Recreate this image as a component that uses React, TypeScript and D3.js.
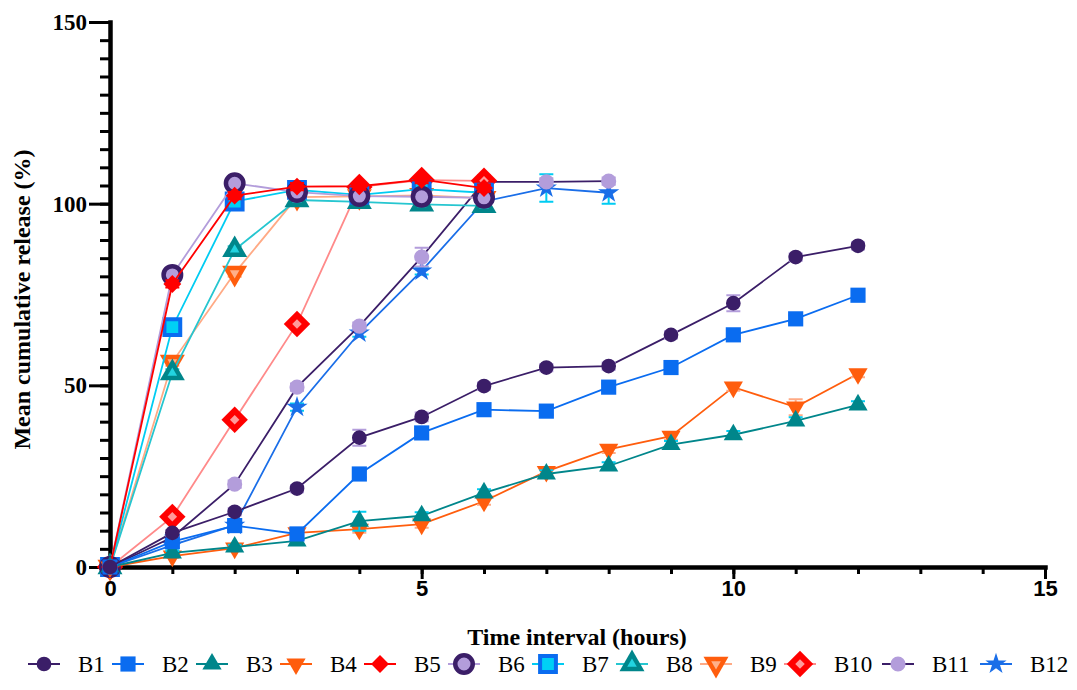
import React, { useEffect, useRef } from "react";
import * as d3 from "d3";

// sampling times (hours)
const hours = [0, 1, 2, 3, 4, 5, 6, 7, 8, 9, 10, 11, 12];

// mean cumulative release (%) per batch
const B1 = [0, 9.4, 15.2, 21.6, 35.6, 41.3, 49.8, 54.9, 55.3, 63.9, 72.6, 85.3, 88.4];
const B2 = [0, 7.0, 11.4, 9.1, 25.6, 36.9, 43.3, 42.9, 49.5, 54.9, 63.9, 68.3, 74.8];
const B3 = [0, 3.9, 5.5, 7.2, 12.6, 14.1, 20.4, 25.6, 27.8, 33.7, 36.4, 40.2, 44.6];
const B4 = [0, 3.0, 5.2, 9.4, 10.4, 11.8, 18.1, 26.3, 32.4, 36.0, 49.5, 44.0, 53.2];
const B5 = [0, 77.9, 102.2, 104.7, 104.8, 106.6, 104.3];
const B6 = [0, 80.4, 105.6, 103.2, 102.1, 101.9, 101.6];
const B7 = [0, 66.0, 100.6, 103.8, 102.4, 104.0, 103.0];
const B8 = [0, 53.4, 87.3, 101.0, 100.5, 99.8, 99.4];
const B9 = [0, 56.4, 80.9, 101.8, 102.0, 102.3, 101.5];
const B10 = [0, 13.8, 40.5, 66.9, 104.6, 106.5, 106.3];
const B11 = [0, 8.2, 22.8, 49.5, 66.3, 85.3, 106.0, 106.0, 106.2];
const B12 = [0, 6.0, 11.5, 44.0, 64.4, 81.5, 100.6, 104.3, 103.0];

// standard deviations
const B1err = [0, 0.8, 1, 1, 2.2, 1.2, 1, 1, 1, 1, 2.2, 1, 1];
const B2err = [0, 0.6, 1, 0.8, 1, 1, 1, 1, 1, 1, 1, 1, 1];
const B3err = [0, 0.5, 0.6, 0.8, 2.6, 1, 1, 1, 1, 1, 1, 1, 1];
const B4err = [0, 0.5, 0.6, 0.8, 1, 1, 1, 1, 1, 1, 1, 2.2, 1];
const B5err = [0, 1, 1, 1, 1, 1, 1];
const B6err = [0, 1, 1, 1, 1, 1, 1];
const B7err = [0, 1, 1, 1, 1, 1, 1];
const B8err = [0, 1, 1, 1, 1, 1, 1];
const B9err = [0, 1, 1, 1, 1, 1, 1];
const B10err = [0, 1, 1, 1, 1, 1, 1.5];
const B11err = [0, 1, 1, 1, 1, 2.6, 1.8, 1, 1];
const B12err = [0, 1, 1, 1, 1, 1, 1, 3.8, 3.0];

const seriesNames = ["B1", "B2", "B3", "B4", "B5", "B6", "B7", "B8", "B9", "B10", "B11", "B12"];
const seriesValues = [B1, B2, B3, B4, B5, B6, B7, B8, B9, B10, B11, B12];
const seriesErrors = [B1err, B2err, B3err, B4err, B5err, B6err, B7err, B8err, B9err, B10err, B11err, B12err];

const xMajorTicks = [0, 5, 10, 15];
const yMajorTicks = [0, 50, 100, 150];

const purple = "#3b1e68";
const blue = "#0a6cf0";
const teal = "#00868b";
const orange = "#ff5d0d";
const red = "#ff0000";
const lavender = "#b39ddb";
const cyan = "#00ccf2";
const turq = "#26c6d0";
const salmon = "#ffaa85";
const pink = "#ff8a8a";

type Style = { line: string; err: string; marker: string };
const styles: Style[] = [
    { line: purple, err: lavender, marker: "circle" },
    { line: blue, err: blue, marker: "square" },
    { line: teal, err: cyan, marker: "triangle" },
    { line: orange, err: salmon, marker: "triDown" },
    { line: red, err: red, marker: "diamond" },
    { line: lavender, err: lavender, marker: "ring" },
    { line: cyan, err: cyan, marker: "boxSquare" },
    { line: turq, err: turq, marker: "bigTriangle" },
    { line: salmon, err: salmon, marker: "bigTriDown" },
    { line: pink, err: pink, marker: "bigDiamond" },
    { line: purple, err: lavender, marker: "lavCircle" },
    { line: "#1a6ee8", err: cyan, marker: "star" },
];

function drawMarker(g: any, kind: string, cx: number, cy: number) {
    const sym = (type: any, size: number) => d3.symbol().type(type).size(size)() as string;
    const add = (d: string, fill: string, rot = 0, stroke = "none", sw = 0) =>
        g.append("path")
            .attr("d", d)
            .attr("transform", `translate(${cx},${cy}) rotate(${rot})`)
            .attr("fill", fill)
            .attr("stroke", stroke)
            .attr("stroke-width", sw);
    switch (kind) {
        case "circle": add(sym(d3.symbolCircle, 170), purple); break;
        case "square": add(sym(d3.symbolSquare, 230), blue); break;
        case "triangle": add(sym(d3.symbolTriangle, 160), teal); break;
        case "triDown": add(sym(d3.symbolTriangle, 160), orange, 180); break;
        case "diamond": add(sym(d3.symbolSquare, 160), red, 45); break;
        case "ring": add(sym(d3.symbolCircle, 240), lavender, 0, purple, 4.5); break;
        case "boxSquare": add(sym(d3.symbolSquare, 250), "#00d0f5", 0, blue, 4); break;
        case "bigTriangle":
            add(sym(d3.symbolTriangle, 270), teal);
            add(sym(d3.symbolTriangle, 40), "#22d3e0");
            break;
        case "bigTriDown":
            add(sym(d3.symbolTriangle, 270), orange, 180);
            add(sym(d3.symbolTriangle, 40), "#ffb08a", 180);
            break;
        case "bigDiamond":
            add(sym(d3.symbolSquare, 350), red, 45);
            add(sym(d3.symbolSquare, 45), "#ff9a9a", 45);
            break;
        case "lavCircle": add(sym(d3.symbolCircle, 180), lavender); break;
        case "star": add(sym(d3.symbolStar, 140), "#1a6ee8"); break;
    }
}

export default function App() {
    const ref = useRef<SVGSVGElement | null>(null);

    useEffect(() => {
        const width = 1077;
        const height = 690;
        const svg = d3.select(ref.current);
        svg.selectAll("*").remove();
        svg.attr("width", width).attr("height", height);

        const x = d3.scaleLinear().domain([0, 15]).range([110, 1045]);
        const y = d3.scaleLinear().domain([0, 150]).range([567, 22]);

        // minor ticks first
        const xMinor = svg.append("g").attr("transform", `translate(0,${y(0)})`)
            .call(d3.axisBottom(x).tickValues(d3.range(0, 16)).tickSize(7).tickSizeOuter(0).tickFormat(() => ""));
        const yMinor = svg.append("g").attr("transform", `translate(${x(0)},0)`)
            .call(d3.axisLeft(y).tickValues(d3.range(0, 151, 5)).tickSize(10).tickSizeOuter(0).tickFormat(() => ""));
        [xMinor, yMinor].forEach(a => {
            a.select(".domain").remove();
            a.selectAll(".tick line").attr("stroke", "#000").attr("stroke-width", 3);
        });

        const xAxis = svg.append("g").attr("transform", `translate(0,${y(0)})`)
            .call(d3.axisBottom(x).tickValues(xMajorTicks).tickSize(12).tickSizeOuter(0).tickPadding(1));
        xAxis.selectAll("text")
            .attr("font-family", "'Liberation Sans Narrow', 'Arial Narrow', 'Liberation Sans', sans-serif")
            .attr("font-weight", "bold").attr("font-size", 22).attr("fill", "#000");

        const yAxis = svg.append("g").attr("transform", `translate(${x(0)},0)`)
            .call(d3.axisLeft(y).tickValues(yMajorTicks).tickSize(21).tickSizeOuter(0).tickPadding(2));
        yAxis.selectAll("text")
            .attr("font-family", "'Liberation Serif', 'Times New Roman', serif")
            .attr("font-weight", "bold").attr("font-size", 23).attr("fill", "#000");

        [xAxis, yAxis].forEach(a => {
            a.select(".domain").attr("stroke", "#000").attr("stroke-width", 4.5).attr("stroke-linecap", "square");
            a.selectAll(".tick line").attr("stroke", "#000").attr("stroke-width", 3);
        });

        // axis titles
        svg.append("text")
            .attr("x", 577).attr("y", 645)
            .attr("text-anchor", "middle")
            .attr("font-family", "'Liberation Serif', serif").attr("font-weight", "bold").attr("font-size", 24)
            .text("Time interval (hours)");
        svg.append("text")
            .attr("transform", `translate(30,${(y(0) + y(150)) / 2 + 5}) rotate(-90)`)
            .attr("text-anchor", "middle")
            .attr("font-family", "'Liberation Serif', serif").attr("font-weight", "bold").attr("font-size", 24)
            .text("Mean cumulative release (%)");

        const line = d3.line<number>().x((d, i) => x(hours[i])).y(d => y(d));

        // later series underneath, B1 on top
        for (let s = seriesValues.length - 1; s >= 0; s--) {
            const vals = seriesValues[s];
            const errs = seriesErrors[s];
            const st = styles[s];
            const g = svg.append("g");
            g.append("path")
                .attr("d", line(vals))
                .attr("fill", "none")
                .attr("stroke", st.line)
                .attr("stroke-width", 1.8);
            vals.forEach((v, i) => {
                const e = errs[i];
                if (!e) return;
                const cx = x(hours[i]);
                g.append("path")
                    .attr("d", `M${cx},${y(v - e)}V${y(v + e)}M${cx - 7},${y(v + e)}H${cx + 7}M${cx - 7},${y(v - e)}H${cx + 7}`)
                    .attr("stroke", st.err).attr("stroke-width", 2).attr("fill", "none");
            });
            vals.forEach((v, i) => drawMarker(g, st.marker, x(hours[i]), y(v)));
        }

        // legend
        const legend = svg.append("g").attr("transform", "translate(0,664)");
        let lx = 44;
        seriesNames.forEach((name, i) => {
            const st = styles[i];
            legend.append("line")
                .attr("x1", lx - 16).attr("x2", lx + 16)
                .attr("stroke", st.line).attr("stroke-width", 2);
            drawMarker(legend, st.marker, lx, 0);
            legend.append("text")
                .attr("x", lx + 34).attr("y", 8)
                .attr("font-family", "'Liberation Serif', serif").attr("font-size", 23)
                .text(name);
            lx += 56 + 14 * name.length;
        });
    }, []);

    return (
        <div style={{ position: "absolute", left: 0, top: 0 }}>
            <svg ref={ref}></svg>
        </div>
    );
}
